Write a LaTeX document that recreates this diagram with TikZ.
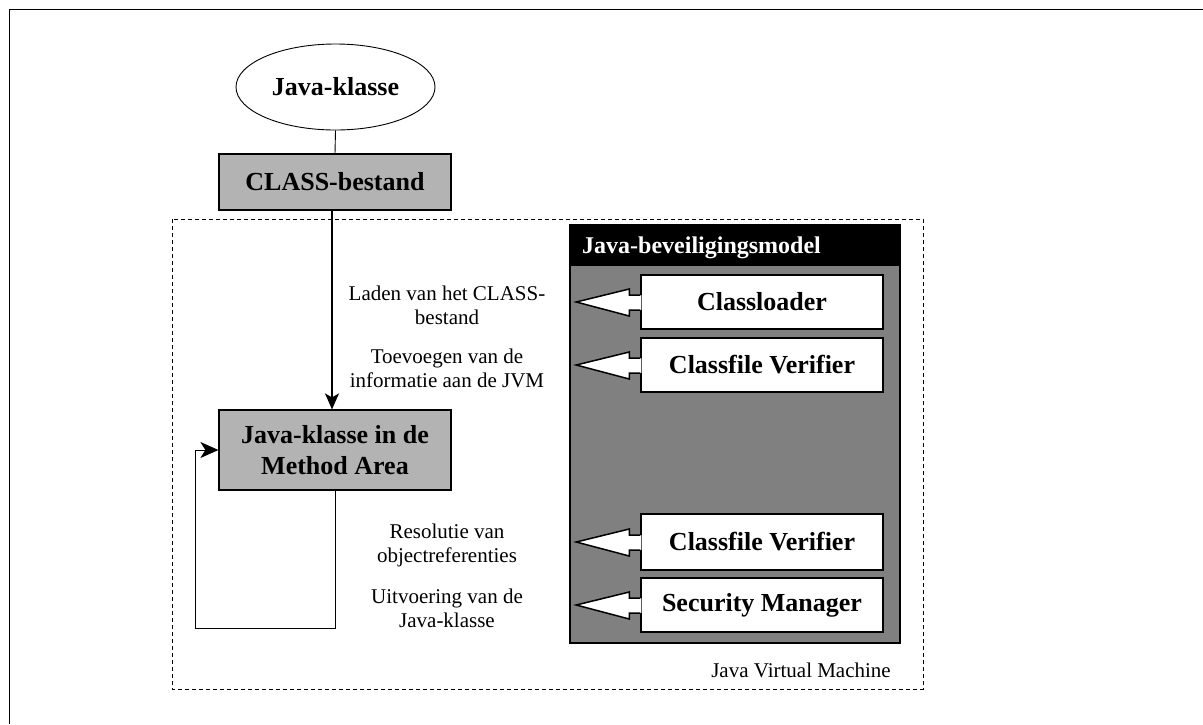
\documentclass[tikz,border=0pt]{standalone}
\usepackage{fontspec}
\setmainfont{Liberation Serif}
\usetikzlibrary{shapes.geometric,arrows.meta,calc}
\definecolor{boxgray}{RGB}{179,179,179}
\definecolor{modelgray}{RGB}{128,128,128}
\begin{document}
\begin{tikzpicture}[x=1pt,y=-1pt,
 boldtxt/.style={font=\fontsize{26}{31}\selectfont\bfseries},
 lbl/.style={font=\fontsize{21}{24}\selectfont, align=center, inner sep=0pt},
 graybox/.style={draw, line width=1.2pt, fill=boxgray, inner sep=0pt, boldtxt, align=center, minimum width=232pt},
 secbox/.style={draw, line width=1.5pt, fill=white, minimum width=242pt, minimum height=54pt, inner sep=0pt, boldtxt},
 flow/.style={line width=1.5pt, -{Stealth[length=16pt,width=14pt,inset=4pt]}},
 loopline/.style={line width=1pt, -{Stealth[length=18pt,width=16pt,inset=5pt]}},
 thin/.style={line width=0.9pt}
]
\useasboundingbox (0,0) rectangle (1203,724);
% outer frame
\draw[line width=1pt] (9.5,724) -- (9.5,9.5) -- (1203,9.5);
% JVM dashed region
\draw[line width=1pt, dash pattern=on 4pt off 3pt] (172,219) rectangle (923,689);
\node[lbl, anchor=base east] (jvm) at (891,677) {Java Virtual Machine};
% left flow
\node[ellipse, draw, thin, fill=white, minimum width=199pt, minimum height=86pt, inner sep=0pt, boldtxt] (jk) at (335.5,87) {Java-klasse};
\node[graybox, minimum height=56pt] (cls) at (335,182) {CLASS-bestand};
\node[graybox, minimum height=80pt] (ma) at (335,450) {Java-klasse in de\\Method Area};
\draw[thin] (jk.south) -- (cls.north);
\draw[flow] ([xshift=-3pt]cls.south) -- ([xshift=-3pt]ma.north);
\coordinate (loopbl) at (195,628);
\draw[loopline] (ma.south) |- (loopbl) |- (ma.west);
% security model
\fill[modelgray] (570,225) rectangle (900,643);
\fill[black] (570,225) rectangle (900,266);
\draw[line width=1.5pt] (570,225) rectangle (900,643);
\node[anchor=base west, inner sep=0pt, text=white, font=\fontsize{24}{28}\selectfont\bfseries] (hdr) at (582,253) {Java-beveiligingsmodel};
\node[secbox] (cl) at (762,302) {Classloader};
\node[secbox] (cv1) at (762,365) {Classfile Verifier};
\node[secbox, minimum height=56pt] (cv2) at (762,542) {Classfile Verifier};
\node[secbox] (sm) at (762,605) {Security Manager};
\foreach \b in {cl,cv1,cv2,sm}{
  \fill[white] ($(\b.west)+(1.2,-7)$) -- ($(\b.west)+(-11,-7)$) -- ($(\b.west)+(-11,-13)$) -- ($(\b.west)+(-64,0)$) -- ($(\b.west)+(-11,14)$) -- ($(\b.west)+(-11,8)$) -- ($(\b.west)+(1.2,8)$) -- cycle;
  \draw[line width=1.5pt, line join=miter] ($(\b.west)+(0,-7)$) -- ($(\b.west)+(-11,-7)$) -- ($(\b.west)+(-11,-13)$) -- ($(\b.west)+(-64,0)$) -- ($(\b.west)+(-11,14)$) -- ($(\b.west)+(-11,8)$) -- ($(\b.west)+(0,8)$);
}
% labels
\node[lbl] (l1) at (447,305) {Laden van het CLASS-\\bestand};
\node[lbl] (l2) at (447,368) {Toevoegen van de\\informatie aan de JVM};
\node[lbl] (l3) at (447,545) {Resolutie van\\objectreferenties};
\node[lbl] (l4) at (447,608) {Uitvoering van de\\Java-klasse};
\end{tikzpicture}
\end{document}
